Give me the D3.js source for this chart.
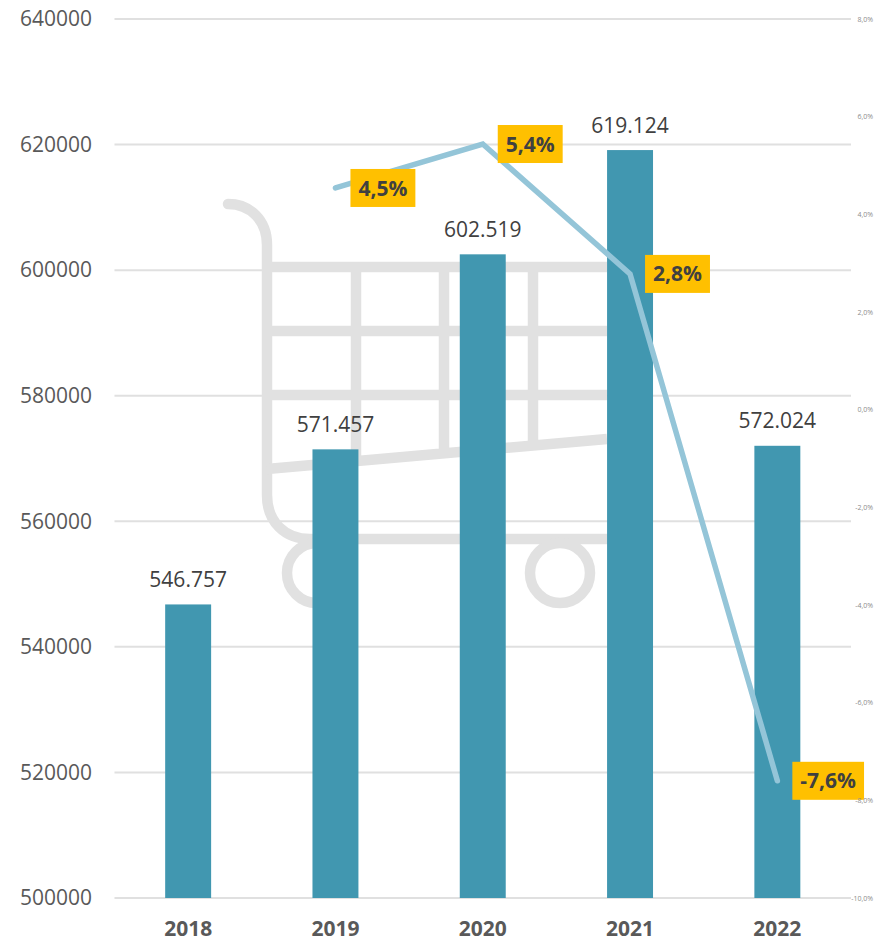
<!DOCTYPE html>
<html><head><meta charset="utf-8">
<script src="https://cdnjs.cloudflare.com/ajax/libs/d3/7.8.5/d3.min.js"></script>
<style>html,body{margin:0;padding:0;background:#fff}svg{display:block}text{font-family:"Open Sans",sans-serif}</style>
</head><body><svg id="c" width="874" height="939"></svg>
<script>
const years = ["2018","2019","2020","2021","2022"];
const salesValues = [546757,571457,602519,619124,572024];
const salesLabels = ["546.757","571.457","602.519","619.124","572.024"];
const growthYears = ["2019","2020","2021","2022"];
const growthValues = [4.54,5.44,2.78,-7.6];
const growthLabels = ["4,5%","5,4%","2,8%","-7,6%"];
const leftTicks = [500000,520000,540000,560000,580000,600000,620000,640000];
const rightTicks = [8,6,4,2,0,-2,-4,-6,-8,-10];
const rightTickLabels = ["8,0%","6,0%","4,0%","2,0%","0,0%","-2,0%","-4,0%","-6,0%","-8,0%","-10,0%"];

const svg = d3.select("#c");
const x = d3.scaleBand().domain(years).range([114.5,851]).paddingInner(0.688).paddingOuter(0.344);
const y = d3.scaleLinear().domain([500000,640000]).range([898,19]);
const y2 = d3.scaleLinear().domain([-10,8]).range([898,19]);
const cx = d => x(d)+x.bandwidth()/2;

// grid
svg.append("g").selectAll("line").data(leftTicks).join("line")
  .attr("x1",114.5).attr("x2",851).attr("y1",d=>y(d)).attr("y2",d=>y(d))
  .attr("stroke","#e0e0e0").attr("stroke-width",2);

// background shopping cart decoration
const cart = svg.append("g").attr("fill","none").attr("stroke","#e1e1e1").attr("stroke-width",10.5);
cart.append("path").attr("stroke-linecap","round")
  .attr("d","M228,204 C250,204 267,220 267,245 L267,495 C267,522 285,539 310,539 L607,539");
cart.append("path").attr("d","M267,267H607M267,331H607M267,395H607M267,469L607,439M356,267V462M444,267V454M533,267V446");
cart.append("circle").attr("cx",317).attr("cy",573).attr("r",30);
cart.append("circle").attr("cx",560).attr("cy",573).attr("r",30);

// bars
svg.append("g").selectAll("rect").data(years).join("rect")
  .attr("x",d=>x(d)).attr("width",x.bandwidth())
  .attr("y",(d,i)=>y(salesValues[i])).attr("height",(d,i)=>y(500000)-y(salesValues[i]))
  .attr("fill","#4197b0");

// bar labels
svg.append("g").selectAll("text").data(years).join("text")
  .attr("x",cx).attr("y",(d,i)=>y(salesValues[i])-25)
  .attr("dy","0.36em")
  .attr("text-anchor","middle").attr("font-size",21).attr("fill","#404040")
  .text((d,i)=>salesLabels[i]);

// line
const line = d3.line().x(d=>cx(d.y)).y(d=>y2(d.v));
const gdata = growthYears.map((g,i)=>({y:g,v:growthValues[i],l:growthLabels[i]}));
svg.append("path").datum(gdata).attr("d",line).attr("fill","none")
  .attr("stroke","#94c5d8").attr("stroke-width",5.5).attr("stroke-linecap","round").attr("stroke-linejoin","miter");

// line labels
const lg = svg.append("g").selectAll("g").data(gdata).join("g");
const boxes = lg.append("rect").attr("fill","#ffc000");
const lt = lg.append("text").attr("font-size",21).attr("font-weight",700).attr("fill","#404040")
  .attr("x",d=>cx(d.y)+15+8).attr("y",d=>y2(d.v)).attr("dy","0.36em").text(d=>d.l);
lt.each(function(d){d.w=this.getComputedTextLength();});
boxes.attr("x",d=>cx(d.y)+15).attr("y",d=>y2(d.v)-19).attr("width",d=>d.w+16).attr("height",38);

// left axis
const la = d3.axisLeft(y).tickValues(leftTicks).tickSize(0).tickPadding(0).tickFormat(d=>String(d));
svg.append("g").attr("transform","translate(92,0)").call(la).call(g=>g.select(".domain").remove())
  .selectAll("text").attr("font-size",21).attr("fill","#595959").style("font-family",'"Open Sans",sans-serif');

// right axis: labels start at the reference's position, nudged left only as far as needed to stay inside the frame
const ra = d3.axisRight(y2).tickValues(rightTicks).tickSize(0).tickPadding(0).tickFormat((d,i)=>rightTickLabels[i]);
svg.append("g").attr("transform","translate(858,0)").attr("opacity",0.99).call(ra).call(g=>g.select(".domain").remove())
  .selectAll("text").attr("font-size",7).attr("fill","#8c8c8c").style("font-family",'"Open Sans",sans-serif')
  .each(function(){const over=858+this.getComputedTextLength()-873;if(over>0)d3.select(this).attr("x",-over);});

// bottom axis
const ba = d3.axisBottom(x).tickSize(0).tickPadding(0);
svg.append("g").attr("transform","translate(0,921)").call(ba).call(g=>g.select(".domain").remove())
  .selectAll("text").attr("font-size",21).attr("font-weight",700).attr("fill","#595959").style("font-family",'"Open Sans",sans-serif');
</script></body></html>
